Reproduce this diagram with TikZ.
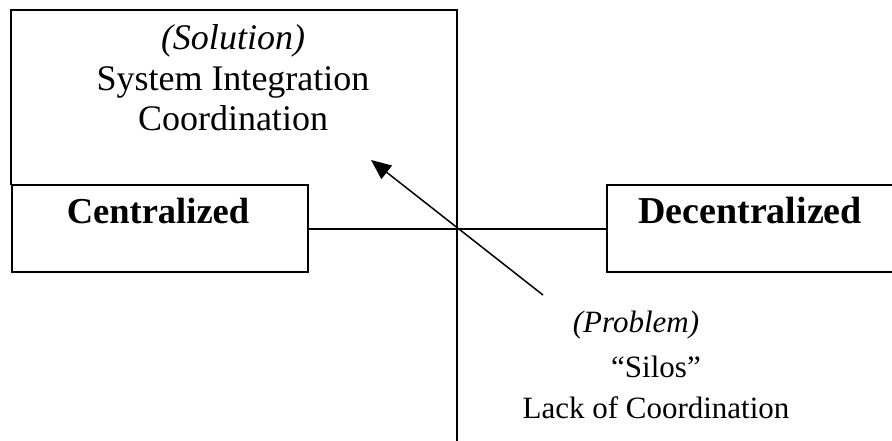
\documentclass[tikz,border=0pt]{standalone}
\usepackage{fontspec}
\setmainfont{Liberation Serif}
\usetikzlibrary{arrows.meta}
\tikzset{
  big/.style={font=\fontsize{36}{40.5}\selectfont},
  small/.style={font=\fontsize{31}{41}\selectfont},
  boxline/.style={line width=2pt},
  labelbox/.style={draw, line width=2pt, minimum width=296pt, minimum height=87pt, inner sep=0pt},
}
\begin{document}
\begin{tikzpicture}[x=1pt,y=-1pt]
\useasboundingbox (0,0) rectangle (892,441);
% axes and frame
\coordinate (tl) at (11,10);
\coordinate (tr) at (457,10);
\coordinate (bot) at (457,441);
\coordinate (lb) at (11,184);
\draw[boxline, line cap=rect] (lb) -- (tl) -- (tr) -- (bot);
% boxes
\node[labelbox, anchor=north west] (cent) at (11,184) {};
\node[font=\fontsize{36.5}{40.5}\selectfont\bfseries] (centt) at (158,211) {Centralized};
\node[labelbox, anchor=north west, minimum width=300pt] (dec) at (606,184) {};
\node[font=\fontsize{38}{40.5}\selectfont\bfseries] (dect) at (750,211) {Decentralized};
\draw[boxline] (cent.east) -- (dec.west);
% texts
\node[big, align=center] (sol) at (233,78) {\textit{(Solution)}\\System Integration\\Coordination};
\node[small] (prob) at (636,325) {\textit{(Problem)}};
\node[small, align=center] (silos) at (656,387) {“Silos”\\Lack of Coordination};
% arrow
\coordinate (atail) at (543,295);
\coordinate (ahead) at (371,160);
\draw[line width=1.5pt, -{Triangle[length=20pt,width=17pt]}] (atail) -- (ahead);
\end{tikzpicture}
\end{document}
